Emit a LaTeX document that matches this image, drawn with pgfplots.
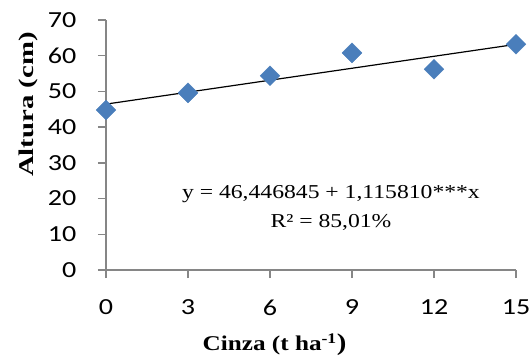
\documentclass[border=0pt]{standalone}
\usepackage{fontspec}
\setmainfont{Liberation Serif}[FakeStretch=1.2]
\newfontfamily\tickfont{Carlito}[FakeStretch=1.22]
\newfontfamily\ylabfont{Liberation Serif}[FakeStretch=1.37]
\usepackage{pgfplots}
\pgfplotsset{compat=1.18}
\definecolor{axgray}{RGB}{134,134,134}
\definecolor{mblue}{RGB}{74,126,187}
\begin{document}
\begin{tikzpicture}
\useasboundingbox (-106bp,-88bp) rectangle (423bp,270bp);
\begin{axis}[
  scale only axis, width=410bp, height=250bp,
  at={(0,0)}, anchor=south west,
  xmin=0, xmax=15, ymin=0, ymax=70,
  xtick={0,3,6,9,12,15}, ytick={0,10,20,30,40,50,60,70},
  axis x line*=bottom, axis y line*=left,
  axis line style={axgray, line width=1.3bp},
  tick style={axgray, line width=1.3bp},
  tick align=outside, major tick length=8bp,
  /pgf/number format/assume math mode=true,
  ticklabel style={font=\tickfont\fontsize{23bp}{27bp}\selectfont, inner sep=0pt},
  yticklabel style={anchor=east, xshift=-21.5bp},
  xticklabel style={anchor=north, yshift=-21.5bp},
  clip=false,
  xlabel={\bfseries Cinza (t ha\textsuperscript{-1}{\fontsize{24bp}{24bp}\selectfont)}},
  xlabel style={at={(axis description cs:0.411,-0.323)}, anchor=base, font=\fontsize{21bp}{25bp}\selectfont, inner sep=0pt},
  ylabel={\ylabfont\bfseries Altura (cm)},
  ylabel style={at={(axis description cs:-0.177,0.662)}, anchor=base, rotate=0, font=\fontsize{21bp}{25bp}\selectfont, inner sep=0pt},
]
\addplot[only marks, mark=square*, mark size=7bp, mark options={rotate=45, fill=mblue, draw=mblue}]
  coordinates {(0,44.8) (3,49.6) (6,54.4) (9,60.8) (12,56.2) (15,63.2)};
\addplot[black, line width=1.2bp, no marks] coordinates {(0,46.446845) (15,63.184995)};
\node[anchor=base, font=\fontsize{19.7bp}{24bp}\selectfont, inner sep=0pt] at (axis cs:8.23,20.16) {y = 46,446845 + 1,115810***x};
\node[anchor=base, font=\fontsize{19.7bp}{24bp}\selectfont, inner sep=0pt] at (axis cs:8.23,12.04) {R² = 85,01\%};
\end{axis}
\end{tikzpicture}
\end{document}
